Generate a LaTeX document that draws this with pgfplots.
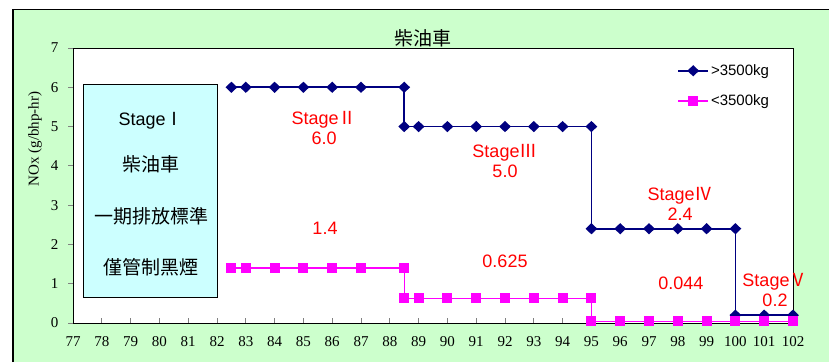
\documentclass[border=0pt]{standalone}
\usepackage{pgfplots}
\pgfplotsset{compat=1.18}
\usepackage{fontspec}
\setmainfont{Liberation Serif}
\newfontfamily\arial{Liberation Sans}
\newfontfamily\cjk{Noto Sans CJK TC}
\definecolor{bg}{HTML}{CCFFCC}
\definecolor{boxcyan}{HTML}{CCFFFF}
\definecolor{navy}{HTML}{000080}
\definecolor{mag}{HTML}{FF00FF}
\definecolor{lblred}{HTML}{FF0000}

\begin{document}
\begin{tikzpicture}[x=1pt,y=1pt]
\path[use as bounding box] (0,0) rectangle (829,362);
\fill[white] (0,0) rectangle (829,362);
\fill[bg] (13,0) rectangle (829,352.5);
\draw[black, line width=1.2pt] (13,0) -- (13,352.5) -- (829,352.5);
\node[font=\cjk\fontsize{19}{19}\selectfont] at (423,324) {柴油車};
\node[rotate=90, font=\fontsize{15}{15}\selectfont] at (35,223) {NOx (g/bhp-hr)};
\begin{axis}[
  at={(73pt,39pt)}, anchor=south west,
  scale only axis, width=720pt, height=275pt,
  xmin=77, xmax=102, ymin=0, ymax=7,
  xtick={77,...,102}, ytick={0,...,7},
  xtick pos=bottom, ytick pos=left,
  tick align=inside, major tick length=5pt,
  ytick style={xshift=-5pt, line width=0.8pt},
  xtick style={line width=0.8pt},
  axis line style={line width=1pt},
  axis background/.style={fill=white},
  /pgf/number format/assume math mode=true,
  tick label style={font=\fontsize{15}{15}\selectfont},
  xticklabel style={yshift=-10pt},
  yticklabel style={xshift=-11pt},
  clip=false,
  legend style={draw=none, fill=none, at={(0.835,0.955)}, anchor=north west,
    font=\arial\fontsize{15}{15}\selectfont, row sep=14pt,
    legend cell align=left},
  legend image code/.code={%
    \draw[mark repeat=2,mark phase=2] plot coordinates {(0pt,0pt) (15pt,0pt) (30pt,0pt)};},
]
% Stage I text box
\draw[fill=boxcyan, line width=0.9pt] (axis cs:77.38,0.66) rectangle (axis cs:82.03,6.08);
\node[font=\arial\fontsize{18}{18}\selectfont] at (axis cs:79.71,5.16) {Stage{\cjk Ⅰ}};
\node[font=\cjk\fontsize{19}{19}\selectfont] at (axis cs:79.71,4.04) {柴油車};
\node[font=\cjk\fontsize{19}{19}\selectfont] at (axis cs:79.71,2.72) {一期排放標準};
\node[font=\cjk\fontsize{19}{19}\selectfont] at (axis cs:79.71,1.42) {僅管制黑煙};

% heavy vehicles
\addplot[navy, line width=1.6pt, mark=diamond*, mark size=4.5pt,
  mark options={solid, fill=navy, xscale=1.4}] coordinates {
  (82.5,6) (83,6) (84,6) (85,6) (86,6) (87,6) (88.5,6)
  (88.5,5) (89,5) (90,5) (91,5) (92,5) (93,5) (94,5) (95,5)
  (95,2.4) (96,2.4) (97,2.4) (98,2.4) (99,2.4) (100,2.4)
  (100,0.2) (101,0.2) (102,0.2)
};
\addlegendentry{>3500kg}
% light vehicles
\addplot[mag, line width=1.4pt, mark=square*, mark size=4.3pt,
  mark options={solid, fill=mag}] coordinates {
  (82.5,1.4) (83,1.4) (84,1.4) (85,1.4) (86,1.4) (87,1.4) (88.5,1.4)
  (88.5,0.625) (89,0.625) (90,0.625) (91,0.625) (92,0.625) (93,0.625) (94,0.625) (95,0.625)
  (95,0.044) (96,0.044) (97,0.044) (98,0.044) (99,0.044) (100,0.044) (101,0.044) (102,0.044)
};
\addlegendentry{<3500kg}

% stage limits
\begin{scope}[every node/.style={text=lblred, align=center,
    font=\arial\fontsize{18}{20}\selectfont}]
\node at (axis cs:85.72,4.96) {Stage{\cjk Ⅱ}\\6.0};
\node at (axis cs:85.75,2.42) {1.4};
\node at (axis cs:92.0,4.12) {Stage{\cjk Ⅲ}\\5.0};
\node at (axis cs:92.0,1.58) {0.625};
\node at (axis cs:98.08,3.03) {Stage{\cjk Ⅳ}\\2.4};
\node at (axis cs:98.11,1.02) {0.044};
\node at (axis cs:101.375,0.84) {Stage{\cjk Ⅴ}\\0.2};
\end{scope}
\end{axis}
\end{tikzpicture}
\end{document}
